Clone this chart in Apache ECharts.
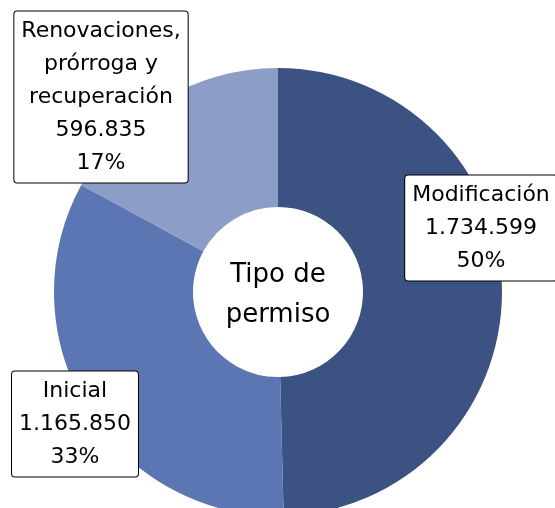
<!DOCTYPE html>
<html>
<head>
<meta charset="utf-8">
<script src="https://cdn.jsdelivr.net/npm/echarts@6/dist/echarts.min.js"></script>
<style>
  html, body { margin: 0; padding: 0; background: #fff; }
  #chart { width: 555px; height: 508px; }
</style>
</head>
<body>
<div id="chart"></div>
<script>
// tipos de permiso (orden en sentido horario desde las 12)
const categories = ["Modificación", "Inicial", "Renovaciones,\nprórroga y\nrecuperación"];
const values = [1734599, 1165850, 596835];
const colors = ["#3c5283", "#5c75b3", "#8c9dc8"];
const centerText = "Tipo de\npermiso";

// centro de cada etiqueta
const labelPos = [
  [481, 228],
  [75, 424],
  [101, 97],
];

const total = values.reduce((a, b) => a + b, 0);

function fmtNum(v) {
  return String(v).replace(/\B(?=(\d{3})+(?!\d))/g, ".");
}

const chart = echarts.init(document.getElementById("chart"), null, { renderer: "canvas" });

const option = {
  animation: false,
  color: colors,
  graphic: [
    {
      type: "text",
      x: 278,
      y: 295,
      style: {
        text: centerText,
        align: "center",
        verticalAlign: "middle",
        fontFamily: "DejaVu Sans",
        fontSize: 26,
        lineHeight: 40,
        fill: "#000",
      },
    },
  ],
  series: [
    {
      type: "pie",
      center: [278, 292],
      radius: [85, 224],
      startAngle: 90,
      clockwise: true,
      itemStyle: { borderWidth: 0 },
      labelLine: { show: false },
      label: {
        show: true,
        position: "inside",
        overflow: "none",
        formatter: (p) =>
          p.name + "\n" + fmtNum(p.value) + "\n" + Math.round((p.value / total) * 100) + "%",
        fontFamily: "DejaVu Sans",
        fontSize: 22,
        lineHeight: 33,
        color: "#000",
        backgroundColor: "#fff",
        borderColor: "#000",
        borderWidth: 1,
        borderRadius: 3,
        padding: [3, 7, 3, 7],
        align: "center",
      },
      labelLayout: (params) => ({
        x: labelPos[params.dataIndex][0],
        y: labelPos[params.dataIndex][1],
        align: "center",
        verticalAlign: "middle",
      }),
      emphasis: { disabled: true },
      data: categories.map((name, i) => ({ name: name, value: values[i] })),
    },
  ],
};

chart.setOption(option);
</script>
</body>
</html>
